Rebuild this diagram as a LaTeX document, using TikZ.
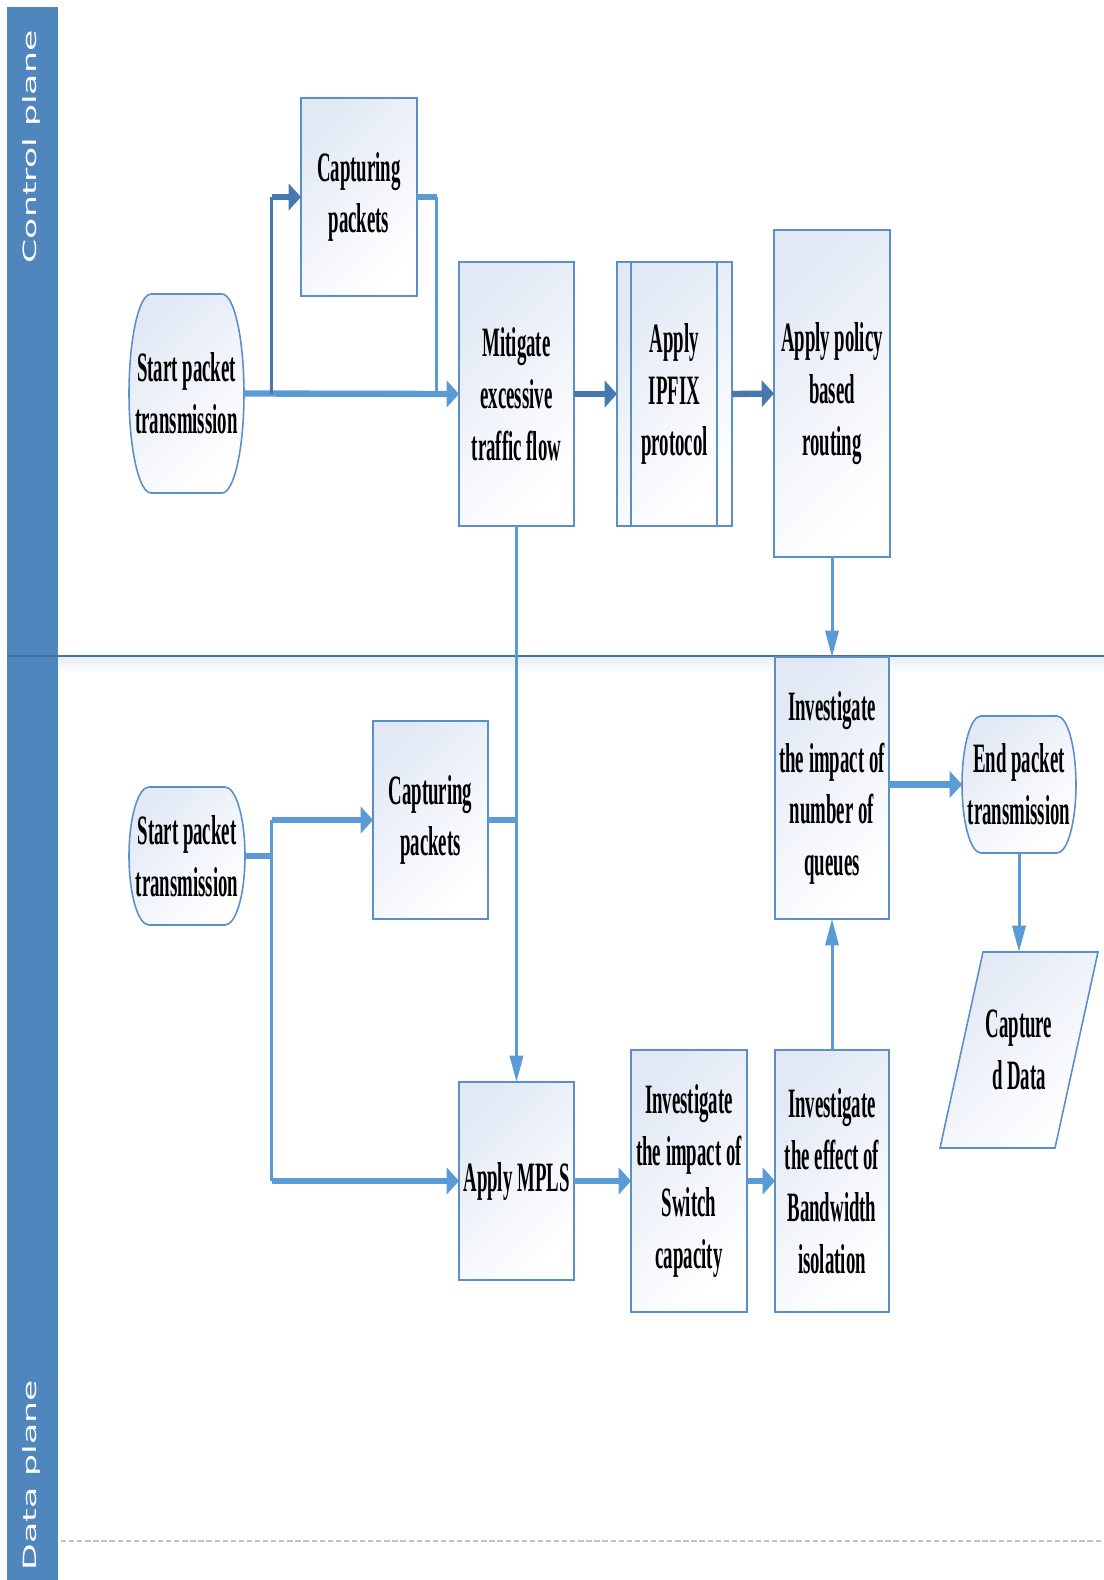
\documentclass[tikz,border=0pt]{standalone}
\usepackage{fontspec}
\usetikzlibrary{arrows.meta,calc}
\newfontfamily\boxfont[FakeStretch=0.45]{Liberation Serif}
\newfontfamily\lanefont[FakeStretch=1.9]{DejaVu Sans}
\definecolor{lanefill}{HTML}{4F86BD}
\definecolor{laneline}{HTML}{44739F}
\definecolor{boxline}{HTML}{5A8FCC}
\definecolor{boxfill}{HTML}{E2E9F5}
\definecolor{flowlight}{HTML}{5B9BD5}
\definecolor{flowdark}{HTML}{4878B0}
\definecolor{dashgrey}{HTML}{C4C4C4}
\pgfdeclarelayer{bg}
\pgfsetlayers{bg,main}
% terminal outline: flat top and bottom, bulging elliptic sides
% #1 node, #2 half height (cm), #3 bulge (cm)
\newcommand\termoutline[3]{%
  \path[termedge] ($(#1.north west)+(#3cm,0pt)$) -- ($(#1.north east)+(-#3cm,0pt)$)
    arc[start angle=90, end angle=-90, x radius=#3cm, y radius=#2cm]
    -- ($(#1.south west)+(#3cm,0pt)$)
    arc[start angle=270, end angle=90, x radius=#3cm, y radius=#2cm] -- cycle;}
\begin{document}
\begin{tikzpicture}[x=0.02cm, y=-0.02cm,
  boxtext/.style={font={\boxfont\bfseries\fontsize{23.8}{29.5}\selectfont}, align=center,
    inner sep=0pt, outer sep=0pt},
  boxlook/.style={draw=boxline, line width=0.9pt, top color=boxfill, bottom color=white,
    shading angle=45},
  proc/.style={boxtext, boxlook, shape=rectangle},
  termtext/.style={boxtext, shape=rectangle},
  termedge/.style={boxlook},
  lanelabel/.style={rotate=90, text=white, font={\lanefont\fontsize{10.4}{12}\selectfont}},
  thickL/.style={draw=flowlight, line width=3.6pt},
  thinL/.style={draw=flowlight, line width=1.7pt},
  thickD/.style={draw=flowdark, line width=3.6pt},
  thinD/.style={draw=flowdark, line width=1.7pt},
  harrow/.style={-{Triangle[length=7pt,width=15pt]}},
  varrow/.style={-{Triangle[length=15pt,width=7.5pt]}}]

\useasboundingbox (0,0) rectangle (1104,1580);

% swimlane frame
\fill[lanefill] (7,7) rectangle (58,1580);
\shade[top color=boxfill!80, bottom color=white] (58,657) rectangle (1104,673);
\draw[laneline, line width=1.2pt] (7,656) -- (1104,656);
\draw[dashgrey, line width=1.2pt, dash pattern=on 3pt off 1.6pt] (61,1541) -- (1104,1541);
\node[lanelabel] (lc) at (31,147) {Control plane};
\node[lanelabel] (ld) at (31,1475) {Data plane};

% control plane
\node[proc, minimum width=2.32cm, minimum height=3.96cm] (cp1) at (359,197) {Capturing\\packets};
\node[termtext, minimum width=2.3cm, minimum height=3.98cm] (st1) at (186.5,393.5) {Start packet\\transmission};
\node[proc, minimum width=2.3cm, minimum height=5.28cm] (mit) at (516.5,394) {Mitigate\\excessive\\traffic flow};
\node[proc, minimum width=2.3cm, minimum height=5.28cm] (ipf) at (674.5,394) {Apply\\IPFIX\\protocol};
\node[proc, minimum width=2.32cm, minimum height=6.54cm] (pol) at (832,393.5) {Apply policy\\based\\routing};

% data plane
\node[proc, minimum width=2.28cm, minimum height=5.24cm] (que) at (832,788) {Investigate\\the impact of\\number of\\queues};
\node[termtext, minimum width=2.28cm, minimum height=2.74cm] (endn) at (1019,784.5) {End packet\\transmission};
\node[termtext, minimum width=1.5cm, minimum height=3.92cm] (cd) at (1019,1050) {Capture\\d Data};
\node[termtext, minimum width=2.32cm, minimum height=2.76cm] (st2) at (187,856) {Start packet\\transmission};
\node[proc, minimum width=2.3cm, minimum height=3.96cm] (cp2) at (430.5,820) {Capturing\\packets};
\node[proc, minimum width=2.3cm, minimum height=3.96cm] (mpls) at (516.5,1181) {Apply MPLS};
\node[proc, minimum width=2.32cm, minimum height=5.24cm] (sw) at (689,1181) {Investigate\\the impact of\\Switch\\capacity};
\node[proc, minimum width=2.28cm, minimum height=5.24cm] (bw) at (832,1181) {Investigate\\the effect of\\Bandwidth\\isolation};

% predefined-process bars
\draw[boxline, line width=0.9pt] ($(ipf.north west)+(14,0)$) -- ($(ipf.south west)+(14,0)$);
\draw[boxline, line width=0.9pt] ($(ipf.north east)+(-15,0)$) -- ($(ipf.south east)+(-15,0)$);

% terminal and data outlines
\begin{pgfonlayer}{bg}
  \termoutline{st1}{1.99}{0.44}
  \termoutline{st2}{1.38}{0.40}
  \termoutline{endn}{1.37}{0.38}
  \path[boxlook] ($(cd)+(-36,-98)$) -- ($(cd)+(79,-98)$) -- ($(cd)+(36,98)$)
    -- ($(cd)+(-79,98)$) -- cycle;
\end{pgfonlayer}

% control plane flow
\coordinate (ja) at ($(st1.east)+(28,0)$);
\coordinate (jb) at ($(cp1.east)+(20,0)$);
\draw[thickL, harrow] (st1.east) -- (mit.west);
\draw[thinD] (ja) -- (ja |- cp1.west);
\draw[thickD, harrow] (ja |- cp1.west) -- (cp1.west);
\draw[thickL] (cp1.east) -- (jb);
\draw[thinL] (jb) -- (jb |- mit.west);
\draw[thickD, harrow] (mit.east) -- (ipf.west);
\draw[thickD, harrow] (ipf.east) -- (pol.west);
\draw[thinL, varrow] (pol.south) -- (que.north);
\draw[thinL, varrow] (mit.south) -- (mpls.north);

% data plane flow
\coordinate (jc) at ($(st2.east)+(27,0)$);
\draw[thickL] (st2.east) -- (jc);
\draw[thinL] (jc |- cp2.west) -- (jc |- mpls.west);
\draw[thickL, harrow] (jc |- cp2.west) -- (cp2.west);
\draw[thickL, harrow] (jc |- mpls.west) -- (mpls.west);
\draw[thickL] (cp2.east) -- (cp2.east -| mit.south);
\draw[thickL, harrow] (mpls.east) -- (sw.west);
\draw[thickL, harrow] (sw.east) -- (bw.west);
\draw[thinL, varrow] (bw.north) -- (que.south);
\draw[thickL, harrow] (que.east |- endn.west) -- (endn.west);
\draw[thinL, varrow] (endn.south) -- (cd.north);
\end{tikzpicture}
\end{document}
